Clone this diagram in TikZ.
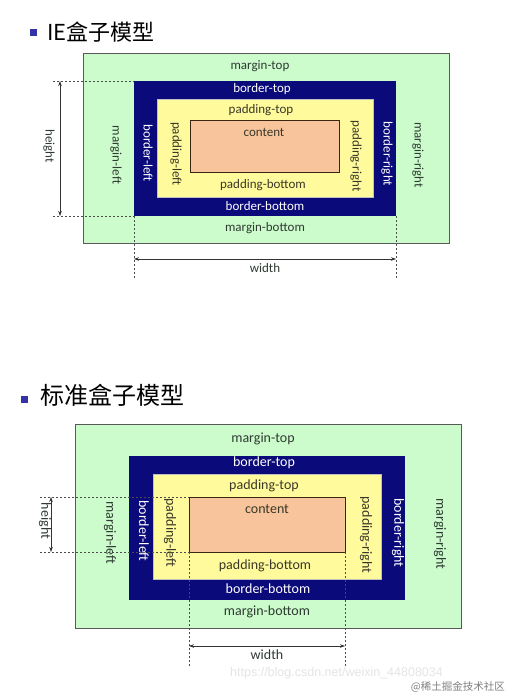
\documentclass[tikz,border=0pt]{standalone}
\usepackage{fontspec}
\setmainfont{Carlito}
\newfontfamily\cjkfont{Noto Sans CJK SC}
\newfontfamily\wmfont{Liberation Sans}
\usetikzlibrary{positioning}
\usetikzlibrary{arrows.meta}

\definecolor{marginc}{HTML}{CCFCCC}
\definecolor{borderc}{HTML}{0A0A7A}
\definecolor{paddingc}{HTML}{FFFB9C}
\definecolor{contentc}{HTML}{F8C49C}
\definecolor{bulletc}{HTML}{3434A8}
\definecolor{mtext}{HTML}{2E3A32}
\definecolor{ptext}{HTML}{3A3828}

\begin{document}
\begin{tikzpicture}[
    x=1pt, y=-1pt,
    box/.style={rectangle,inner sep=0pt,outer sep=0pt},
    marginbox/.style={box,fill=marginc,draw=black!65,line width=0.8pt},
    borderbox/.style={box,fill=borderc},
    paddingbox/.style={box,fill=paddingc,draw=black!25,line width=0.4pt},
    contentbox/.style={box,fill=contentc,draw=black!70!brown,line width=0.7pt},
    lbl/.style={inner sep=0pt},
    mlbl/.style={lbl,text=mtext},
    blbl/.style={lbl,text=white},
    plbl/.style={lbl,text=ptext},
    side/.style={rotate=-90},
    title/.style={anchor=west,inner sep=0pt,font=\cjkfont},
    bullet/.style={box,fill=bulletc,minimum size=7pt},
    dimarrow/.style={{Stealth[length=5pt,width=3.5pt]}-{Stealth[length=5pt,width=3.5pt]},line width=0.6pt,black!80},
    guide/.style={dash pattern=on 2pt off 2pt,line width=0.5pt,black!70}
]
\useasboundingbox[fill=white] (0,0) rectangle (510,694);

% IE box model
\node[bullet] (sq1) at (33.5,32.5) {};
\node[title,font=\cjkfont\fontsize{22}{22}\selectfont] (t1) at (47,32) {IE盒子模型};

\node[marginbox,minimum width=366pt,minimum height=190pt] (m1) at (266,148) {};
\node[borderbox,minimum width=262pt,minimum height=135pt] (b1) at (265,148.5) {};
\node[paddingbox,minimum width=216pt,minimum height=98pt] (p1) at (265,148) {};
\node[contentbox,minimum width=149pt,minimum height=52pt] (c1) at (264.5,146) {};

\begin{scope}[font=\fontsize{13}{13}\selectfont]
\node[mlbl] (mt1) at (260,66) {margin-top};
\node[blbl] (bt1) at (262,89.5) {border-top};
\node[plbl] (pt1) at (261,110) {padding-top};
\node[plbl] (ct1) at (264,132) {content};
\node[plbl] (pb1) at (263,185) {padding-bottom};
\node[blbl] (bb1) at (265,206) {border-bottom};
\node[mlbl] (mb1) at (265,228) {margin-bottom};
\node[mlbl,side] (ml1) at (116,155) {margin-left};
\node[blbl,side] (bl1) at (148,153) {border-left};
\node[plbl,side] (pl1) at (176,154) {padding-left};
\node[plbl,side] (pr1) at (356,156) {padding-right};
\node[blbl,side] (br1) at (387,154) {border-right};
\node[mlbl,side] (mr1) at (418,155) {margin-right};
\node[mlbl,side] (h1) at (49,146) {height};
\node[mlbl] (w1) at (265,268) {width};
\end{scope}

\coordinate (ht1) at (53,81);
\coordinate (hb1) at (53,216);
\coordinate (ha1) at (60,81);
\coordinate (hz1) at (60,216);
\coordinate (wl1) at (134,278);
\coordinate (wr1) at (396,278);
\coordinate (wa1) at (134,259);
\coordinate (wz1) at (396,259);
\draw[guide] (ht1) -- (b1.north west);
\draw[guide] (hb1) -- (b1.south west);
\draw[guide] (b1.south west) -- (wl1);
\draw[guide] (b1.south east) -- (wr1);
\draw[dimarrow] (ha1) -- (hz1);
\draw[dimarrow] (wa1) -- (wz1);

% standard box model
\node[bullet] (sq2) at (24,399) {};
\node[title,font=\cjkfont\fontsize{24}{24}\selectfont] (t2) at (40,395) {标准盒子模型};

\node[marginbox,minimum width=385.5pt,minimum height=204pt] (m2) at (268.25,526) {};
\node[borderbox,minimum width=276.5pt,minimum height=144pt] (b2) at (266.75,527.5) {};
\node[paddingbox,minimum width=228pt,minimum height=105pt] (p2) at (267,527) {};
\node[contentbox,minimum width=156pt,minimum height=55pt] (c2) at (267,524.5) {};

\coordinate (ht2) at (40,497);
\coordinate (hb2) at (40,552);
\coordinate (ha2) at (51,497);
\coordinate (hz2) at (51,552);
\coordinate (wl2) at (189,667);
\coordinate (wr2) at (345,667);
\coordinate (wa2) at (189,646);
\coordinate (wz2) at (345,646);
\draw[guide] (ht2) -- (c2.north west);
\draw[guide] (hb2) -- (c2.south west);
\draw[guide] (c2.south west) -- (wl2);
\draw[guide] (c2.south east) -- (wr2);
\draw[dimarrow] (ha2) -- (hz2);
\draw[dimarrow] (wa2) -- (wz2);

\begin{scope}[font=\fontsize{14}{14}\selectfont]
\node[mlbl] (mt2) at (263,439) {margin-top};
\node[blbl] (bt2) at (264,463) {border-top};
\node[plbl] (pt2) at (264,486) {padding-top};
\node[plbl] (ct2) at (267,509) {content};
\node[plbl] (pb2) at (265,566) {padding-bottom};
\node[blbl] (bb2) at (268,589) {border-bottom};
\node[mlbl] (mb2) at (267,612) {margin-bottom};
\node[mlbl,side] (ml2) at (110,533) {margin-left};
\node[blbl,side] (bl2) at (144,531) {border-left};
\node[plbl,side] (pl2) at (170,533) {padding-left};
\node[plbl,side] (pr2) at (366,535) {padding-right};
\node[blbl,side] (br2) at (398,533) {border-right};
\node[mlbl,side] (mr2) at (440,534) {margin-right};
\node[mlbl,side] (h2) at (45,521) {height};
\node[mlbl] (w2) at (267,655) {width};
\end{scope}

% watermark
\node[lbl,anchor=west,text=black!10,font=\wmfont\fontsize{12.5}{12.5}\selectfont] (wm1) at (230,673) {https://blog.csdn.net/weixin\_44808034};
\node[lbl,anchor=east,text=black!50,font=\cjkfont\fontsize{10.5}{10.5}\selectfont] (wm2) at (505,687) {@稀土掘金技术社区};
\end{tikzpicture}
\end{document}
